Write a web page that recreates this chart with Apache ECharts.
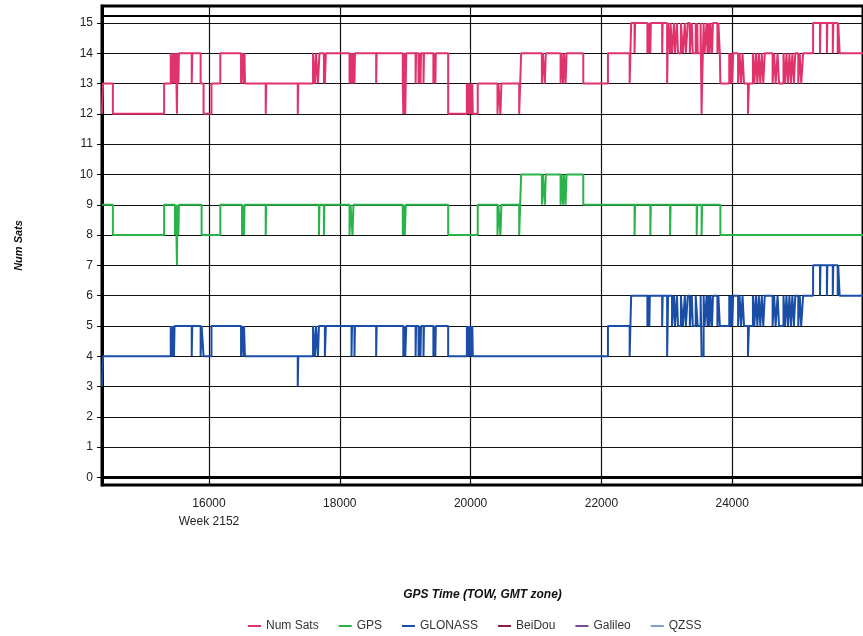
<!DOCTYPE html>
<html>
<head>
<meta charset="utf-8">
<script src="https://cdn.jsdelivr.net/npm/echarts@6/dist/echarts.min.js"></script>
<style>
  html, body { margin: 0; padding: 0; background: #fff; }
  #chart { width: 863px; height: 636px; }
</style>
</head>
<body>
<div id="chart"></div>
<script>
var legendNames = ['Num Sats', 'GPS', 'GLONASS', 'BeiDou', 'Galileo', 'QZSS'];
var colors = ['#e0336b', '#2ab34a', '#1a4ea6', '#8b1e3f', '#7b4d8f', '#7f9fd9'];
var xTicks = [16000, 18000, 20000, 22000, 24000];
var yTicks = [0, 1, 2, 3, 4, 5, 6, 7, 8, 9, 10, 11, 12, 13, 14, 15];

// GPS satellites, value holds from each time until the next one
var gpsTimes = [14364, 14530, 15314, 15480, 15495, 15510, 15517, 15532, 15540, 15887, 16173, 16505, 16520, 16535, 16543,
  16867, 16875, 17681, 17689, 17757, 17764, 18149, 18164, 18194, 18209, 18963, 18978, 18993, 19008, 19657, 20109,
  20411, 20426, 20456, 20471, 20743, 20773, 21090, 21105, 21135, 21150, 21376, 21391, 21414, 21429, 21452, 21467,
  21723, 22507, 22515, 22748, 22756, 23050, 23058, 23457, 23465, 23532, 23540, 23819, 26000];
var gpsSats = [9, 8, 9, 8, 9, 7, 9, 8, 9, 8, 9, 8, 9, 8, 9,
  8, 9, 8, 9, 8, 9, 8, 9, 8, 9, 8, 9, 8, 9, 8, 9,
  8, 9, 8, 9, 8, 10, 9, 10, 9, 10, 9, 10, 9, 10, 9, 10,
  9, 8, 9, 8, 9, 8, 9, 8, 9, 8, 9, 8, 8];

var glonassTimes = [14364, 14379, 15415, 15435, 15450, 15465, 15473, 15736, 15744, 15872, 15887, 15917, 16038, 16490, 16505,
  16528, 16535, 16550, 17357, 17365, 17591, 17621, 17636, 17666, 17681, 17772, 17787, 18179, 18187, 18224, 18232,
  18556, 18564, 18971, 18986, 19001, 19016, 19159, 19167, 19204, 19212, 19234, 19242, 19280, 19287, 19431, 19438,
  19461, 19468, 19657, 19943, 19958, 19973, 19988, 20003, 20018, 20026, 20034, 22100, 22432, 22455, 22703, 22711,
  22733, 22741, 22929, 22937, 23005, 23020, 23080, 23110, 23125, 23155, 23171, 23216, 23246, 23276, 23291, 23321,
  23352, 23382, 23397, 23442, 23472, 23517, 23532, 23563, 23578, 23608, 23623, 23638, 23653, 23668, 23691, 23706,
  23774, 23789, 23811, 23955, 23970, 23985, 24000, 24015, 24090, 24113, 24136, 24158, 24181, 24241, 24256, 24317,
  24339, 24362, 24385, 24407, 24430, 24452, 24475, 24498, 24618, 24641, 24664, 24694, 24716, 24784, 24807, 24829,
  24852, 24875, 24897, 24920, 24943, 24965, 25010, 25033, 25055, 25085, 25237, 25342, 25350, 25448, 25455, 25538,
  25546, 25613, 25621, 25643, 26000];
var glonassSats = [3, 4, 5, 4, 5, 4, 5, 4, 5, 4, 5, 4, 5, 4, 5,
  4, 5, 4, 3, 4, 5, 4, 5, 4, 5, 4, 5, 4, 5, 4, 5,
  4, 5, 4, 5, 4, 5, 4, 5, 4, 5, 4, 5, 4, 5, 4, 5,
  4, 5, 4, 5, 4, 5, 4, 5, 4, 5, 4, 5, 4, 6, 5, 6,
  5, 6, 5, 6, 4, 6, 5, 6, 5, 6, 5, 6, 5, 6, 5, 6,
  5, 6, 5, 6, 5, 6, 4, 6, 5, 6, 5, 6, 5, 6, 5, 6,
  5, 6, 5, 6, 5, 6, 5, 6, 5, 6, 5, 6, 5, 4, 5, 6,
  5, 6, 5, 6, 5, 6, 5, 6, 5, 6, 5, 6, 5, 6, 5, 6,
  5, 6, 5, 6, 5, 6, 5, 6, 5, 6, 7, 6, 7, 6, 7, 6,
  7, 6, 7, 6, 6];

var numTimes = [14364, 14379, 14530, 15314, 15415, 15435, 15450, 15465, 15473, 15480, 15495, 15510, 15517, 15532, 15540,
  15736, 15744, 15872, 15887, 15917, 16038, 16173, 16490, 16505, 16520, 16528, 16535, 16543, 16550, 16867, 16875,
  17357, 17365, 17591, 17621, 17636, 17666, 17681, 17689, 17757, 17764, 17772, 17787, 18149, 18164, 18179, 18187,
  18194, 18209, 18224, 18232, 18556, 18564, 18963, 18971, 18978, 18986, 18993, 19001, 19008, 19016, 19159, 19167,
  19204, 19212, 19234, 19242, 19280, 19287, 19431, 19438, 19461, 19468, 19657, 19943, 19958, 19973, 19988, 20003,
  20018, 20026, 20034, 20109, 20411, 20426, 20456, 20471, 20743, 20773, 21090, 21105, 21135, 21150, 21376, 21391,
  21414, 21429, 21452, 21467, 21723, 22100, 22432, 22455, 22507, 22515, 22703, 22711, 22733, 22741, 22748, 22756,
  22929, 22937, 23005, 23020, 23050, 23058, 23080, 23110, 23125, 23155, 23171, 23216, 23246, 23276, 23291, 23321,
  23352, 23382, 23397, 23442, 23457, 23465, 23472, 23517, 23532, 23540, 23563, 23578, 23608, 23623, 23638, 23653,
  23668, 23691, 23706, 23774, 23789, 23811, 23819, 23955, 23970, 23985, 24000, 24015, 24090, 24113, 24136, 24158,
  24181, 24241, 24256, 24317, 24339, 24362, 24385, 24407, 24430, 24452, 24475, 24498, 24618, 24641, 24664, 24694,
  24716, 24784, 24807, 24829, 24852, 24875, 24897, 24920, 24943, 24965, 25010, 25033, 25055, 25085, 25237, 25342,
  25350, 25448, 25455, 25538, 25546, 25613, 25621, 25643, 26000];
var numSats = [12, 13, 12, 13, 14, 13, 14, 13, 14, 13, 14, 12, 14, 13, 14,
  13, 14, 13, 13, 12, 13, 14, 13, 13, 14, 13, 13, 14, 13, 12, 13,
  12, 13, 14, 13, 14, 13, 13, 14, 13, 14, 13, 14, 13, 14, 13, 14,
  13, 14, 13, 14, 13, 14, 13, 12, 13, 14, 13, 12, 13, 14, 13, 14,
  13, 14, 13, 14, 13, 14, 13, 14, 13, 14, 12, 13, 12, 13, 12, 13,
  12, 13, 12, 13, 12, 13, 12, 13, 12, 14, 13, 14, 13, 14, 13, 14,
  13, 14, 13, 14, 13, 14, 13, 15, 14, 15, 14, 15, 14, 15, 14, 15,
  14, 15, 13, 15, 14, 15, 14, 15, 14, 15, 14, 15, 14, 15, 14, 15,
  14, 15, 14, 15, 14, 15, 14, 15, 12, 13, 15, 14, 15, 14, 15, 14,
  15, 14, 15, 14, 15, 14, 13, 14, 13, 14, 13, 14, 13, 14, 13, 14,
  13, 12, 13, 14, 13, 14, 13, 14, 13, 14, 13, 14, 13, 14, 13, 14,
  13, 14, 13, 14, 13, 14, 13, 14, 13, 14, 13, 14, 13, 14, 15, 14,
  15, 14, 15, 14, 15, 14, 15, 14, 14];

function pairs(times, vals) {
  return times.map(function (t, i) { return [t, vals[i]]; });
}

var font = 'Arial, "Liberation Sans", sans-serif';
var myChart = echarts.init(document.getElementById('chart'));

function stepSeries(name, color, data, extra) {
  var s = {
    name: name,
    type: 'line',
    step: 'end',
    showSymbol: false,
    symbol: 'none',
    animation: false,
    color: color,
    lineStyle: { color: color, width: 2 },
    data: data
  };
  if (extra) { for (var k in extra) s[k] = extra[k]; }
  return s;
}

var option = {
  backgroundColor: '#fff',
  textStyle: { fontFamily: font },
  grid: {
    left: 102, top: 6, right: -11, bottom: 151,
    show: true, borderColor: '#000', borderWidth: 3
  },
  legend: {
    left: 243, top: 615,
    itemWidth: 13, itemHeight: 2, itemGap: 20,
    icon: 'rect',
    textStyle: { fontFamily: font, fontSize: 12, color: '#333' },
    data: legendNames
  },
  xAxis: {
    type: 'value',
    min: 14364, max: 26000,
    name: 'GPS Time (TOW, GMT zone)',
    nameLocation: 'middle',
    nameGap: 104,
    nameTextStyle: { fontFamily: font, fontSize: 12, fontWeight: 'bold', fontStyle: 'italic', color: '#111' },
    axisLine: { show: true, lineStyle: { color: '#000', width: 3 } },
    axisTick: { show: true, length: 5, customValues: xTicks, lineStyle: { color: '#000' } },
    axisLabel: {
      customValues: xTicks, color: '#222', fontSize: 12, margin: 10, lineHeight: 18,
      formatter: function (v) { return v === 16000 ? '16000\nWeek 2152' : String(v); }
    },
    splitLine: { show: true, lineStyle: { color: '#111', width: 1.2 } }
  },
  yAxis: {
    type: 'value',
    min: -0.25, max: 15.56,
    name: 'Num Sats',
    nameLocation: 'middle',
    nameGap: 78,
    nameTextStyle: { fontFamily: font, fontSize: 11, fontWeight: 'bold', fontStyle: 'italic', color: '#111' },
    axisLine: { show: true, lineStyle: { color: '#000', width: 3 } },
    axisTick: { show: true, length: 5, customValues: yTicks, lineStyle: { color: '#000' } },
    axisLabel: { customValues: yTicks, color: '#222', fontSize: 12, margin: 9 },
    splitLine: { show: true, lineStyle: { color: '#111', width: 1.2 } }
  },
  series: [
    stepSeries(legendNames[0], colors[0], pairs(numTimes, numSats), {
      z: 3,
      markLine: {
        silent: true, symbol: 'none', animation: false,
        label: { show: false },
        lineStyle: { color: '#000', width: 2, type: 'solid' },
        data: [{ yAxis: 15.23 }]
      }
    }),
    stepSeries(legendNames[1], colors[1], pairs(gpsTimes, gpsSats)),
    stepSeries(legendNames[2], colors[2], pairs(glonassTimes, glonassSats)),
    stepSeries(legendNames[3], colors[3], []),
    stepSeries(legendNames[4], colors[4], []),
    stepSeries(legendNames[5], colors[5], [])
  ]
};

option && myChart.setOption(option);
</script>
</body>
</html>
